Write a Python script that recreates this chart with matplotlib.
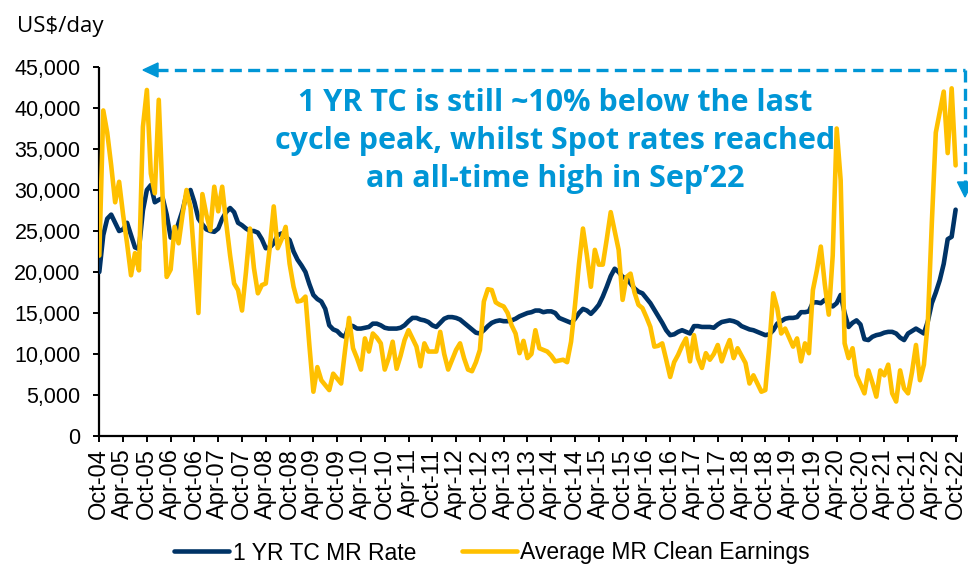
import matplotlib
matplotlib.use("Agg")
import matplotlib.pyplot as plt
from matplotlib.lines import Line2D
from matplotlib.patches import Polygon
from matplotlib.ticker import FuncFormatter

# ---------------- data (monthly, Oct-04 .. Oct-22) ----------------
tc_rate = [
    20000, 24500, 26500, 27000, 26000, 25000, 25200, 26000, 24500, 23000, 22800, 27500,
    30000, 30600, 28500, 28800, 29000, 27000, 24200, 24500, 26000, 27500, 29500, 30000,
    28500, 26500, 25800, 25200, 25000, 24900, 25300, 26500, 27300, 27800, 27300, 26000,
    25700, 25300, 25000, 25000, 24800, 24000, 22900, 23000, 23500, 24500, 24700, 24300,
    23900, 22500, 21500, 20800, 20000, 18500, 17200, 16700, 16400, 15500, 13500, 13000,
    12800, 12300, 12100, 13500, 13400, 13100, 13100, 13200, 13300, 13700, 13700, 13500,
    13200, 13100, 13100, 13100, 13200, 13500, 14000, 14400, 14400, 14200, 14100, 13900,
    13500, 13300, 13800, 14300, 14500, 14500, 14400, 14200, 13800, 13400, 13000, 12600,
    12500, 12900, 13400, 13800, 14000, 14100, 14000, 14000, 14100, 14300, 14600, 14800,
    15000, 15100, 15300, 15300, 15100, 15200, 15200, 15000, 14400, 14200, 14000, 13800,
    14300, 15000, 15500, 15300, 14900, 15400, 16000, 17000, 18200, 19500, 20400, 20000,
    19400, 19200, 18600, 18000, 17600, 17400, 16800, 16200, 15400, 14600, 13800, 12900,
    12300, 12400, 12700, 12900, 12700, 12500, 13400, 13400, 13300, 13300, 13300, 13200,
    13600, 13900, 14000, 14100, 14000, 13800, 13400, 13200, 13000, 12900, 12700, 12500,
    12300, 12400, 12900, 13700, 14000, 14300, 14400, 14400, 14500, 15100, 15100, 15200,
    16300, 16300, 16200, 16600, 16100, 15800, 16200, 17200, 15000, 13300, 13800, 14100,
    13600, 11800, 11700, 12100, 12300, 12400, 12600, 12700, 12700, 12500, 12000, 11700,
    12500, 12800, 13100, 12800, 12500, 14000, 16200, 17500, 19000, 21000, 24000, 24300,
    27600,
]

clean_earnings = [
    22000, 39700, 37000, 33000, 28500, 31000, 27000, 23500, 19600, 22300, 20200, 37700,
    42200, 32000, 29600, 41000, 28800, 19400, 20300, 25500, 23500, 27000, 30000, 27900,
    21500, 15000, 29500, 27000, 25100, 30400, 27400, 30400, 26000, 22000, 18600, 17800,
    15300, 20000, 25300, 20500, 17400, 18400, 18600, 23000, 28000, 22900, 24000, 25500,
    21000, 18200, 16400, 16500, 17000, 11000, 5400, 8400, 6800, 6200, 5600, 7600,
    7000, 6400, 10500, 14400, 10700, 9500, 8100, 11900, 10300, 12500, 12000, 11300,
    8100, 9500, 11500, 8200, 9800, 11700, 12900, 11900, 10900, 8500, 11300, 10300,
    10300, 10300, 12700, 10000, 8100, 9300, 10500, 11300, 9500, 8100, 7900, 9000,
    10500, 16400, 17900, 17800, 16300, 16000, 15800, 15000, 13500, 12500, 10100, 11600,
    9500, 10000, 12900, 10700, 10500, 10300, 9800, 9100, 9200, 9300, 9000, 11500,
    16000, 21000, 25300, 22000, 18200, 22700, 20900, 20900, 24000, 27300, 25000, 22700,
    16600, 19400, 19800, 17500, 16000, 15600, 14500, 13300, 10900, 11000, 11300, 9300,
    7200, 9000, 9900, 11000, 11900, 9100, 12300, 9500, 8300, 10100, 9300, 10000,
    11100, 9100, 10500, 11700, 9500, 10700, 9800, 8900, 6400, 7400, 6400, 5400,
    5600, 11000, 17400, 15600, 12500, 13100, 12000, 10900, 11900, 9100, 11300, 10100,
    17800, 20200, 23100, 18500, 14800, 22000, 37500, 31200, 11300, 9500, 10700, 7400,
    6300, 5200, 8000, 6500, 4800, 8000, 7400, 8700, 5200, 4200, 8000, 5800,
    5200, 7800, 11100, 6800, 8700, 14000, 26000, 37000, 39500, 42000, 34500, 42400,
    33000,
]

tick_labels = [
    "Oct-04", "Apr-05", "Oct-05", "Apr-06", "Oct-06", "Apr-07", "Oct-07", "Apr-08",
    "Oct-08", "Apr-09", "Oct-09", "Apr-10", "Oct-10", "Apr-11", "Oct-11", "Apr-12",
    "Oct-12", "Apr-13", "Oct-13", "Apr-14", "Oct-14", "Apr-15", "Oct-15", "Apr-16",
    "Oct-16", "Apr-17", "Oct-17", "Apr-18", "Oct-18", "Apr-19", "Oct-19", "Apr-20",
    "Oct-20", "Apr-21", "Oct-21", "Apr-22", "Oct-22",
]

series_names = ["1 YR TC MR Rate", "Average MR Clean Earnings"]
y_ticks = [0, 5000, 10000, 15000, 20000, 25000, 30000, 35000, 40000, 45000]
unit_label = "US$/day"
note_lines = [
    "1 YR TC is still ~10% below the last",
    "cycle peak, whilst Spot rates reached",
    "an all-time high in Sep\u201922",
]

# ---------------- styling ----------------
NAVY = "#003366"
GOLD = "#FFC000"
BLUE = "#0096D6"
W, H = 968, 564

plt.rcParams["font.family"] = ["Liberation Sans", "DejaVu Sans"]

fig = plt.figure(figsize=(W / 100, H / 100), dpi=100)
fig.patch.set_facecolor("white")

def fx(px):
    return px / W

def fy(py):
    return 1 - py / H

ax_left, ax_right, ax_top, ax_bottom = 99.3, 958, 67, 436
ax = fig.add_axes([fx(ax_left), fy(ax_bottom), fx(ax_right - ax_left), (ax_bottom - ax_top) / H])

x = list(range(len(tc_rate)))
l1, = ax.plot(x, tc_rate, color=NAVY, lw=3.3, solid_joinstyle="round",
              solid_capstyle="round", label=series_names[0], zorder=3)
l2, = ax.plot(x, clean_earnings, color=GOLD, lw=3.3, solid_joinstyle="round",
              solid_capstyle="round", label=series_names[1], zorder=4)

ax.set_xlim(0, 216.6)
ax.set_ylim(0, 45000)
ax.set_yticks(y_ticks)
ax.yaxis.set_major_formatter(FuncFormatter(lambda v, p: f"{int(v):,}"))
ax.set_xticks(list(range(0, 6 * len(tick_labels), 6)))
ax.set_xticklabels(tick_labels, rotation=90, va="top", ha="center")

for s in ["top", "right"]:
    ax.spines[s].set_visible(False)
for s in ["left", "bottom"]:
    ax.spines[s].set_linewidth(1.6)
    ax.spines[s].set_color("black")
    ax.spines[s].set_capstyle("butt")

ax.tick_params(axis="y", direction="out", length=4.5, width=1.4, pad=9, labelsize=15.5)
ax.tick_params(axis="x", direction="out", length=4.5, width=1.4, pad=4, labelsize=17)

# unit label
fig.text(fx(17), fy(32), unit_label, fontsize=16, family=["Open Sans", "DejaVu Sans"],
         ha="left", va="baseline", color="black")

# annotation text
for i, line in enumerate(note_lines):
    fig.text(fx(555), fy(103 + 38 * i), line, fontsize=22, fontweight="bold",
             family=["Open Sans", "DejaVu Sans"], color=BLUE, ha="center", va="center")

# dashed arrows
corner_x, top_y = 965, 70
fig.add_artist(Line2D([fx(156), fx(corner_x)], [fy(top_y), fy(top_y)],
                      transform=fig.transFigure, color=BLUE, lw=2.4,
                      ls=(0, (3.6, 1.9)), solid_capstyle="butt"))
fig.add_artist(Line2D([fx(corner_x), fx(corner_x)], [fy(top_y), fy(184)],
                      transform=fig.transFigure, color=BLUE, lw=2.4,
                      ls=(0, (3.6, 1.9))))
fig.add_artist(Polygon([[fx(143), fy(top_y)], [fx(158), fy(top_y - 7)], [fx(158), fy(top_y + 7)]],
                       closed=True, transform=fig.transFigure, color=BLUE))
fig.add_artist(Polygon([[fx(corner_x), fy(197)], [fx(corner_x - 7.5), fy(182)], [fx(corner_x + 7.5), fy(182)]],
                       closed=True, transform=fig.transFigure, color=BLUE))

# legend
fig.legend(handles=[l1, l2], labels=series_names, loc="center",
           bbox_to_anchor=(fx(492), fy(553)), ncol=2, frameon=False,
           fontsize=16.5, handlelength=2.4, handletextpad=0.15, columnspacing=2.0,
           borderpad=0.0)

fig.savefig("out.png", dpi=100, facecolor="white")
